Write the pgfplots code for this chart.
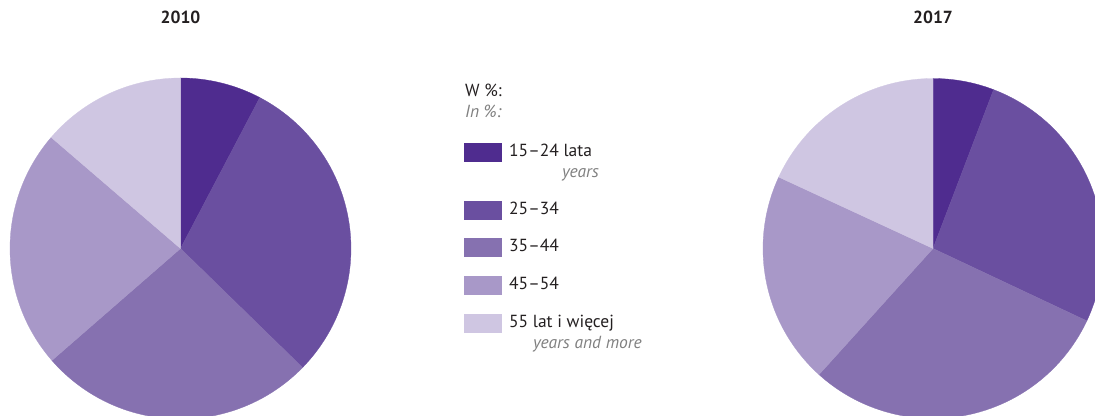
\documentclass[border=0pt]{standalone}
\usepackage{pgfplots}
\usepackage{pgfplotstable}
\pgfplotsset{compat=1.18}
\usepackage{fontspec}
\setmainfont{PT Sans}
\definecolor{c0}{HTML}{4F2C8F}
\definecolor{c1}{HTML}{6A4FA0}
\definecolor{c2}{HTML}{8671B0}
\definecolor{c3}{HTML}{A898C8}
\definecolor{c4}{HTML}{CFC6E2}
\definecolor{txt}{HTML}{231F20}
\definecolor{gry}{HTML}{808080}

\pgfplotstableread{
age p2010 p2017
15-24 7.7 5.8
25-34 29.6 26.2
35-44 26.3 29.7
45-54 22.7 20.2
55+ 13.7 18.1
}\piedata

\newcommand\computepie[2]{%
  \gdef\cumsum{0}%
  \foreach \i in {0,...,4}{%
    \pgfplotstablegetelem{\i}{#1}\of\piedata
    \pgfmathsetmacro\a{90-3.6*\cumsum}%
    \pgfmathsetmacro\newcum{\cumsum+\pgfplotsretval}%
    \pgfmathsetmacro\b{90-3.6*\newcum}%
    \expandafter\xdef\csname #2s\i\endcsname{\a}%
    \expandafter\xdef\csname #2e\i\endcsname{\b}%
    \xdef\cumsum{\newcum}%
  }%
}

\begin{document}%
\begin{tikzpicture}
\computepie{p2010}{A}%
\computepie{p2017}{B}%
\begin{axis}[
  x=1pt, y=1pt,
  xmin=0, xmax=1095, ymin=0, ymax=415,
  hide axis, clip=true, enlargelimits=false,
]
\coordinate (ll) at (axis cs:0,0);
\coordinate (ur) at (axis cs:1095,415);
\pgfplotsinvokeforeach{0,...,4}{
  \fill[c#1, draw=c#1, line width=0.3pt] (axis cs:180.5,166.5) -- ++(\csname As#1\endcsname:170.5pt)
    arc[start angle=\csname As#1\endcsname, end angle=\csname Ae#1\endcsname, radius=170.5pt] -- cycle;
  \fill[c#1, draw=c#1, line width=0.3pt] (axis cs:933,166.5) -- ++(\csname Bs#1\endcsname:170pt)
    arc[start angle=\csname Bs#1\endcsname, end angle=\csname Be#1\endcsname, radius=170pt] -- cycle;
}
% titles
\node[anchor=base, text=txt, font=\fontsize{17.5}{20}\selectfont\bfseries] at (axis cs:180.5,391) {2010};
\node[anchor=base, text=txt, font=\fontsize{17.5}{20}\selectfont\bfseries] at (axis cs:933,391) {2017};
% legend
\node[anchor=base west, inner sep=0pt, text=txt, font=\fontsize{17.5}{20}\selectfont] at (axis cs:465,318) {W \%:};
\node[anchor=base west, inner sep=0pt, text=gry, font=\fontsize{17.5}{20}\selectfont\itshape] at (axis cs:465,297) {In \%:};
\fill[c0] (axis cs:464,253) rectangle (axis cs:502,272);
\fill[c1] (axis cs:464,195) rectangle (axis cs:502,214);
\fill[c2] (axis cs:464,158) rectangle (axis cs:502,177);
\fill[c3] (axis cs:464,120) rectangle (axis cs:502,139);
\fill[c4] (axis cs:464,82) rectangle (axis cs:502,101);
\node[anchor=base west, inner sep=0pt, text=txt, font=\fontsize{17.5}{20}\selectfont] at (axis cs:509,258) {15–24 lata};
\node[anchor=base west, inner sep=0pt, text=gry, font=\fontsize{17.5}{20}\selectfont\itshape] at (axis cs:562,237) {years};
\node[anchor=base west, inner sep=0pt, text=txt, font=\fontsize{17.5}{20}\selectfont] at (axis cs:509,200) {25–34};
\node[anchor=base west, inner sep=0pt, text=txt, font=\fontsize{17.5}{20}\selectfont] at (axis cs:509,163) {35–44};
\node[anchor=base west, inner sep=0pt, text=txt, font=\fontsize{17.5}{20}\selectfont] at (axis cs:509,125) {45–54};
\node[anchor=base west, inner sep=0pt, text=txt, font=\fontsize{17.5}{20}\selectfont] at (axis cs:509,87) {55 lat i więcej};
\node[anchor=base west, inner sep=0pt, text=gry, font=\fontsize{17.5}{20}\selectfont\itshape] at (axis cs:533,66) {years and more};
\end{axis}
\pgfresetboundingbox
\useasboundingbox (ll) rectangle (ur);
\end{tikzpicture}%
\end{document}
